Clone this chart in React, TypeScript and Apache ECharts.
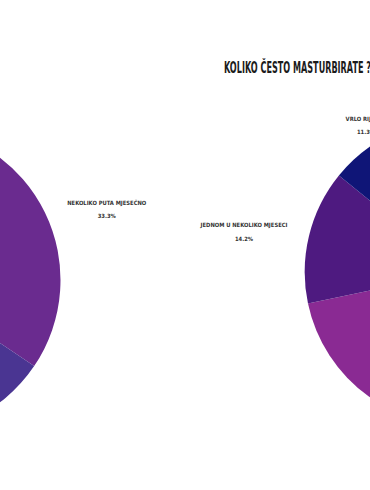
import React, { useEffect, useRef } from "react";
import * as echarts from "echarts";

// ---- data ----
const titleText = "KOLIKO ČESTO MASTURBIRATE ?";

const leftNames = [
  "NEKOLIKO PUTA MJESEČNO",
  "JEDNOM U NEKOLIKO MJESECI",
  "VRLO RIJETKO",
  "NEKOLIKO PUTA TJEDNO",
  "SVAKODNEVNO",
];
const leftValues = [30, 32, 14, 9, 5];
const leftColors = ["#6a2b8f", "#4a3592", "#2b2a85", "#8b2a93", "#a04a9e"];

const rightNames = [
  "SVAKODNEVNO",
  "NEKOLIKO PUTA TJEDNO",
  "NEKOLIKO PUTA MJESEČNO",
  "JEDNOM U NEKOLIKO MJESECI",
  "VRLO RIJETKO",
  "NIKAD",
];
const rightValues = [8, 18, 50, 15, 12, 3];
const rightColors = ["#6b2f96", "#a0449f", "#8a2a93", "#4e1a80", "#0f1577", "#2b3a9a"];

const FONT = '"Liberation Sans Narrow", "DejaVu Sans Condensed", "Roboto", sans-serif';

export default function App() {
  const ref = useRef<HTMLDivElement>(null);

  useEffect(() => {
    if (!ref.current) return;
    const chart = echarts.init(ref.current, undefined, { renderer: "svg" });

    const labelOpt = {
      show: true,
      position: "outer",
      alignTo: "none",
      distanceToLabelLine: 5,
      formatter: "{a|{b}}\n{a|{d}%}",
      fontFamily: FONT,
      fontSize: 5.8,
      fontWeight: "bold",
      color: "#333333",
      rich: {
        a: {
          align: "center",
          fontFamily: FONT,
          fontSize: 5.8,
          fontWeight: "bold",
          color: "#333333",
          lineHeight: 13.5,
        },
      },
    };

    const build = (names: string[], values: number[], colors: string[], shifted?: string) =>
      names.map((n, i) => {
        const item: any = { name: n, value: values[i], itemStyle: { color: colors[i] } };
        if (n === shifted) item.labelLine = { show: false, length2: -20 };
        return item;
      });

    chart.setOption({
      animation: false,
      backgroundColor: "#ffffff",
      graphic: [
        {
          type: "text",
          x: 224,
          y: 68.5,
          scaleX: 0.6,
          style: {
            text: titleText,
            fill: "#1c1c1c",
            fontSize: 15,
            fontWeight: "bold",
            fontFamily: FONT,
            align: "left",
            verticalAlign: "middle",
          },
        },
      ],
      series: [
        {
          type: "pie",
          center: [-93.5, 280],
          radius: 154,
          startAngle: 86,
          percentPrecision: 1,
          avoidLabelOverlap: false,
          itemStyle: { borderWidth: 0 },
          label: labelOpt,
          labelLine: { show: false, length: 7, length2: 11 },
          emphasis: { disabled: true },
          data: build(leftNames, leftValues, leftColors),
        },
        {
          type: "pie",
          center: [457.7, 272],
          radius: 153,
          startAngle: 90,
          percentPrecision: 1,
          avoidLabelOverlap: false,
          itemStyle: { borderWidth: 0 },
          label: labelOpt,
          labelLine: { show: false, length: 17, length2: 0 },
          emphasis: { disabled: true },
          data: build(rightNames, rightValues, rightColors, "VRLO RIJETKO"),
        },
      ],
    });

    return () => chart.dispose();
  }, []);

  return (
    <div
      ref={ref}
      style={{ position: "absolute", left: 0, top: 0, width: 370, height: 490 }}
    />
  );
}
